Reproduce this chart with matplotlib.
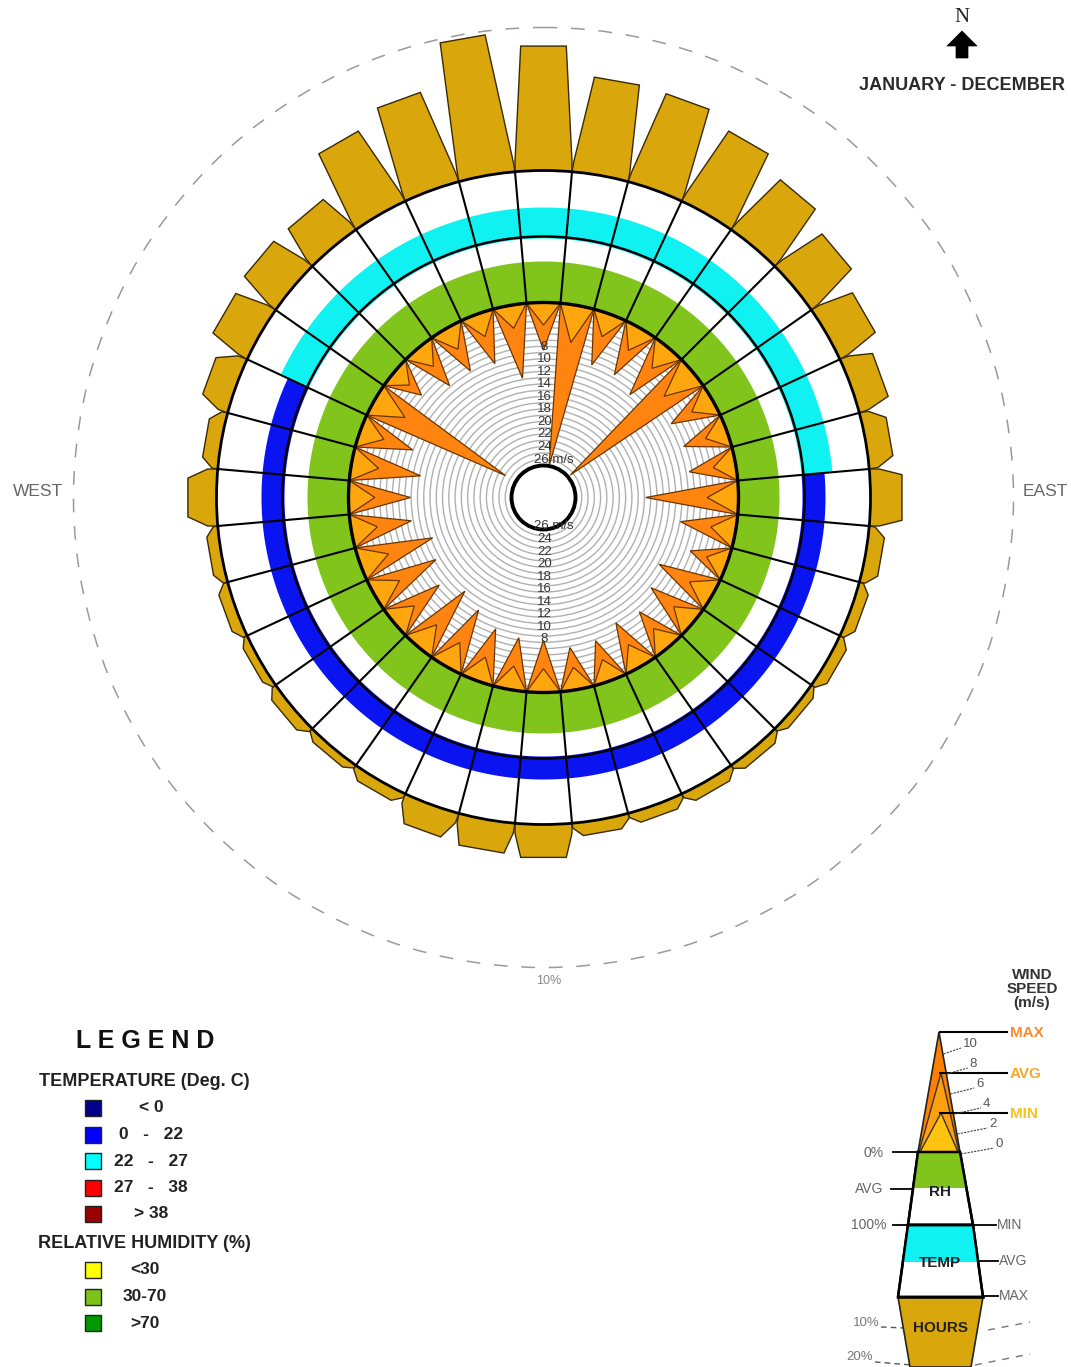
import numpy as np
import matplotlib
matplotlib.use('Agg')
import matplotlib.pyplot as plt
from matplotlib.patches import Polygon, Circle

plt.rcParams['font.family'] = ['Liberation Sans', 'DejaVu Sans']

# ---------------- data ----------------
directions_deg = [0, 10, 20, 30, 40, 50, 60, 70, 80, 90, 100, 110, 120, 130, 140, 150, 160, 170,
                  180, 190, 200, 210, 220, 230, 240, 250, 260, 270, 280, 290, 300, 310, 320, 330, 340, 350]
hours_pct = [8.7, 6.7, 6.6, 5.8, 4.8, 3.9, 3.0, 2.2, 1.7, 2.2, 1.1, 0.8, 0.8, 0.6, 0.7, 0.8, 0.8, 0.9,
             2.3, 2.1, 1.9, 0.8, 0.6, 0.8, 0.6, 0.8, 0.8, 2.0, 1.1, 2.0, 2.9, 3.1, 3.0, 5.8, 6.7, 9.7]
wind_max = [7.6, 26.0, 8.6, 8.5, 9.7, 25.5, 7.6, 7.3, 7.5, 14.8, 8.9, 6.2, 9.8, 8.7, 7.3, 8.0, 6.8, 6.8,
            8.3, 8.4, 8.8, 10.4, 11.6, 9.4, 11.3, 12.3, 9.7, 9.9, 11.2, 8.9, 24.1, 5.7, 7.8, 7.8, 8.4, 11.8]
wind_avg = [3.6, 6.0, 3.8, 4.0, 4.2, 6.0, 3.8, 3.6, 3.6, 5.0, 4.0, 3.4, 4.2, 4.0, 3.8, 4.0, 3.6, 3.6,
            3.8, 3.8, 4.0, 4.4, 4.6, 4.2, 4.6, 4.8, 4.2, 4.2, 4.4, 4.0, 5.6, 3.2, 3.8, 3.8, 3.8, 3.7]
temp_class = ['22-27', '22-27', '22-27', '22-27', '22-27', '22-27', '22-27', '22-27', '22-27',
              '0-22', '0-22', '0-22', '0-22', '0-22', '0-22', '0-22', '0-22', '0-22',
              '0-22', '0-22', '0-22', '0-22', '0-22', '0-22', '0-22', '0-22', '0-22',
              '0-22', '0-22', '0-22', '22-27', '22-27', '22-27', '22-27', '22-27', '22-27']
rh_class = ['30-70'] * 36
speed_ticks = [8, 10, 12, 14, 16, 18, 20, 22, 24, 26]
speed_rings = list(range(1, 26))
temp_legend = ['< 0', '0   -   22', '22   -   27', '27   -   38', '> 38']
temp_colors = ['#00008B', '#0000FF', '#00FFFF', '#FF0000', '#990000']
rh_legend = ['<30', '30-70', '>70']
rh_colors = ['#FFFF00', '#7DC31B', '#009900']
key_speed_ticks = [0, 2, 4, 6, 8, 10]

TEMP_FILL = {'0-22': '#0A14F0', '22-27': '#10F2F2'}
TEMP_OUT = {'0-22': 282, '22-27': 290}
RH_FILL = {'30-70': '#80C41C'}

# ---------------- layout ----------------
W, H = 1071, 1367
fig = plt.figure(figsize=(W / 100, H / 100), dpi=100)
ax = fig.add_axes([0, 0, 1, 1])
ax.set_xlim(0, W)
ax.set_ylim(H, 0)
ax.axis('off')

CX, CY = 543.5, 497.5
R_CENTER = 32
R_WIND = 195          # 0 m/s ring
PX_PER_MS = 6.27
R_RH_OUT = 261
R_T_OUT = 327
PX_PER_PCT = 14.3     # 10 % at r = 470
R_10PCT = R_T_OUT + 10 * PX_PER_PCT
HALF = 5

GOLD = '#D9A60C'
ORANGE = '#FF8410'
ORANGE_L = '#FFA60E'


def pt(r, th):
    t = np.deg2rad(th)
    return (CX + r * np.sin(t), CY - r * np.cos(t))


def ring_sector(r1, r2, a1, a2, n=24):
    a = np.linspace(a1, a2, n)
    return [pt(r2, x) for x in a] + [pt(r1, x) for x in a[::-1]]


# dashed 10% circle
ax.add_patch(Circle((CX, CY), R_10PCT, fill=False, ec='#9A9A9A', lw=1.1,
                    ls=(0, (9, 9)), zorder=1))
ax.text(CX + 5, CY + R_10PCT + 13, '10%', fontsize=9, color='#888888', ha='center', va='center')

# hours bars
for th, p in zip(directions_deg, hours_pct):
    r_top = R_T_OUT + p * PX_PER_PCT
    bl = np.array(pt(R_T_OUT, th - HALF))
    br = np.array(pt(R_T_OUT, th + HALF))
    t = np.deg2rad(th)
    d = np.array([np.sin(t), -np.cos(t)])
    hw_vec = (br - bl) / 2
    h = r_top - R_T_OUT * np.cos(np.deg2rad(HALF))
    s = min(0.35 * h, 10)
    f = 0.8 if h > 30 else 0.68
    top_c = np.array([CX, CY]) + r_top * d
    poly = [tuple(bl), tuple(bl + d * s), tuple(top_c - hw_vec * f),
            tuple(top_c + hw_vec * f), tuple(br + d * s), tuple(br)]
    ax.add_patch(Polygon(poly, closed=True, fc=GOLD, ec='#3A2A05', lw=1.0, zorder=2))

# white disk under rings
ax.add_patch(Circle((CX, CY), R_T_OUT, fc='white', ec='none', zorder=3))

# temperature bands
for th, c in zip(directions_deg, temp_class):
    ax.add_patch(Polygon(ring_sector(R_RH_OUT - 2, TEMP_OUT[c], th - HALF, th + HALF),
                         closed=True, fc=TEMP_FILL[c], ec='none', zorder=4))
# RH bands
for th, c in zip(directions_deg, rh_class):
    ax.add_patch(Polygon(ring_sector(R_WIND, 236, th - HALF, th + HALF),
                         closed=True, fc=RH_FILL[c], ec='none', zorder=4))

# gray speed circles
for v in speed_rings:
    ax.add_patch(Circle((CX, CY), R_WIND - v * PX_PER_MS, fill=False, ec='#B0B0B0', lw=1.0, zorder=5))

# wind spikes
for th, vmax, vavg in zip(directions_deg, wind_max, wind_avg):
    b1, b2 = pt(R_WIND, th - HALF), pt(R_WIND, th + HALF)
    ax.add_patch(Polygon([b1, pt(R_WIND - vmax * PX_PER_MS, th), b2], closed=True,
                         fc=ORANGE, ec='#6A3500', lw=0.9, zorder=6))
    ax.add_patch(Polygon([b1, pt(R_WIND - vavg * PX_PER_MS, th), b2], closed=True,
                         fc=ORANGE_L, ec='#6A3500', lw=0.9, zorder=7))

# grid circles and radial lines
for r, lw in [(R_WIND, 2.4), (R_RH_OUT, 1.8), (R_T_OUT, 2.0)]:
    ax.add_patch(Circle((CX, CY), r, fill=False, ec='black', lw=lw, zorder=8))
for th in directions_deg:
    a = th - HALF
    p1, p2 = pt(R_WIND, a), pt(R_T_OUT, a)
    ax.plot([p1[0], p2[0]], [p1[1], p2[1]], color='black', lw=1.5, zorder=8)

# centre circle
ax.add_patch(Circle((CX, CY), R_CENTER, fc='white', ec='black', lw=2.8, zorder=9))

# speed labels
for v in speed_ticks:
    r = R_WIND - v * PX_PER_MS
    lab = '%d' % v
    if v == speed_ticks[-1]:
        ax.text(CX - 9, CY - r - 6, lab + ' m/s', fontsize=9.5, color='#333333', ha='left', va='center', zorder=10)
        ax.text(CX - 9, CY + r - 3, lab + ' m/s', fontsize=9.5, color='#333333', ha='left', va='center', zorder=10)
    else:
        ax.text(CX + 1, CY - r - 6, lab, fontsize=9.5, color='#333333', ha='center', va='center', zorder=10)
        ax.text(CX + 1, CY + r - 3, lab, fontsize=9.5, color='#333333', ha='center', va='center', zorder=10)

# compass texts
ax.text(38, 492, 'WEST', fontsize=12.5, color='#666666', ha='center', va='center')
ax.text(1045, 492, 'EAST', fontsize=12.5, color='#666666', ha='center', va='center')
ax.text(962, 17, 'N', fontsize=15, family='Liberation Serif', color='#222222', ha='center', va='center')
ax.add_patch(Polygon([(962, 31), (977, 46), (968, 46), (968, 58), (956, 58), (956, 46), (947, 46)],
                     closed=True, fc='black', ec='black', lw=0.5))
ax.text(962, 86, 'JANUARY - DECEMBER', fontsize=13, fontweight='bold', color='#2A2A2A',
        ha='center', va='center')

# ---------------- left legend ----------------
ax.text(145, 1041, 'L E G E N D', fontsize=18, fontweight='bold', color='#111111', ha='center', va='center')
ax.text(144, 1081, 'TEMPERATURE (Deg. C)', fontsize=13, fontweight='bold', color='#222222',
        ha='center', va='center')
for i, (lab, col) in enumerate(zip(temp_legend, temp_colors)):
    y = 1108 + i * 26.5
    ax.add_patch(plt.Rectangle((85, y - 8), 16, 16, fc=col, ec='#222222', lw=1))
    ax.text(151, y, lab, fontsize=12.5, fontweight='bold', color='#222222', ha='center', va='center')
ax.text(144, 1243, 'RELATIVE HUMIDITY (%)', fontsize=13, fontweight='bold', color='#222222',
        ha='center', va='center')
for i, (lab, col) in enumerate(zip(rh_legend, rh_colors)):
    y = 1270 + i * 26.5
    ax.add_patch(plt.Rectangle((85, y - 8), 16, 16, fc=col, ec='#222222', lw=1))
    ax.text(145, y, lab, fontsize=12.5, fontweight='bold', color='#222222', ha='center', va='center')

# ---------------- right key ----------------
ax.text(1032, 989, 'WIND\nSPEED\n(m/s)', fontsize=11, fontweight='bold', color='#333333',
        ha='center', va='center', linespacing=1.0)
tip = (939, 1032)
yb = 1152
ax.add_patch(Polygon([tip, (918, yb), (960, yb)], closed=True, fc='#FF8000', ec='#222222', lw=1.2, zorder=3))
ax.add_patch(Polygon([(941, 1073), (919, yb), (959, yb)], closed=True, fc='#FFA010', ec='#333333', lw=1.0, zorder=4))
ax.add_patch(Polygon([(941, 1113), (920, yb), (958, yb)], closed=True, fc='#FFC20E', ec='#333333', lw=1.0, zorder=5))
for y, lab, col in [(1032, 'MAX', '#FF8A2A'), (1073, 'AVG', '#F2A830'), (1113, 'MIN', '#F2C21E')]:
    ax.plot([940, 1007], [y, y], color='black', lw=1.5, zorder=6)
    ax.text(1010, y + 1, lab, fontsize=11, color=col, ha='left', va='center', fontweight='bold')
for v in key_speed_ticks:
    y = yb - 10 * v
    xr = 939 + 21 * (y - 1032) / 120
    xl = 963 + 3.3 * (10 - v)
    ax.plot([xr + 1, xl - 2], [y + 2, y - 4], color='#444444', lw=0.8, ls=(0, (2, 1)), zorder=6)
    ax.text(xl, y - 8, '%d' % v, fontsize=9.5, color='#555555', ha='left', va='center')

# RH cell
ax.add_patch(Polygon([(918, 1152), (960, 1152), (973, 1225), (908, 1225)], closed=True,
                     fc='white', ec='black', lw=1.8, zorder=3))
ax.add_patch(Polygon([(918, 1153), (960, 1153), (966, 1188), (913, 1188)], closed=True,
                     fc='#80C41C', ec='none', zorder=4))
ax.plot([918, 960, 973, 908, 918], [1152, 1152, 1225, 1225, 1152], color='black', lw=1.8, zorder=5)
ax.text(940, 1192, 'RH', fontsize=11, fontweight='bold', color='#222222', ha='center', va='center', zorder=6)
# TEMP cell
ax.add_patch(Polygon([(908, 1225), (973, 1225), (983, 1297), (898, 1297)], closed=True,
                     fc='white', ec='black', lw=1.8, zorder=3))
ax.add_patch(Polygon([(908, 1226), (973, 1226), (978, 1262), (903, 1262)], closed=True,
                     fc='#10F2F2', ec='none', zorder=4))
ax.plot([908, 973, 983, 898, 908], [1225, 1225, 1297, 1297, 1225], color='black', lw=1.8, zorder=5)
ax.text(940, 1263, 'TEMP', fontsize=11, fontweight='bold', color='#222222', ha='center', va='center', zorder=6)
# HOURS
ax.add_patch(Polygon([(898, 1297), (983, 1297), (971, 1367), (910, 1367)], closed=True,
                     fc=GOLD, ec='#222222', lw=1.2, zorder=3))
ax.plot([898, 983], [1297, 1297], color='black', lw=1.8, zorder=5)
ax.text(940, 1328, 'HOURS', fontsize=11, fontweight='bold', color='#222222', ha='center', va='center', zorder=6)

# key side labels
side = dict(fontsize=10, color='#666666', va='center')
ax.text(874, 1153, '0%', ha='center', **side)
ax.plot([893, 918], [1152, 1152], color='black', lw=1.3)
ax.text(869, 1189, 'AVG', ha='center', **side)
ax.plot([891, 913], [1189, 1189], color='black', lw=1.3)
ax.text(869, 1225, '100%', ha='center', **side)
ax.plot([893, 908], [1225, 1225], color='black', lw=1.3)
ax.text(997, 1225, 'MIN', ha='left', **side)
ax.plot([973, 996], [1225, 1225], color='black', lw=1.3)
ax.text(999, 1261, 'AVG', ha='left', **side)
ax.plot([978, 998], [1261, 1261], color='black', lw=1.3)
ax.text(999, 1296, 'MAX', ha='left', **side)
ax.plot([983, 998], [1296, 1296], color='black', lw=1.3)
ax.text(866, 1323, '10%', ha='center', fontsize=9.5, color='#777777', va='center')
ax.plot([881, 905], [1327, 1328], color='#555555', lw=1, ls=(0, (4, 3)))
ax.plot([988, 1030], [1330, 1322], color='#777777', lw=1, ls=(0, (5, 5)))
ax.text(860, 1357, '20%', ha='center', fontsize=9.5, color='#777777', va='center')
ax.plot([875, 912], [1362, 1365], color='#555555', lw=1, ls=(0, (4, 3)))
ax.plot([975, 1030], [1365, 1354], color='#777777', lw=1, ls=(0, (5, 5)))

fig.savefig('out.png', dpi=100)
